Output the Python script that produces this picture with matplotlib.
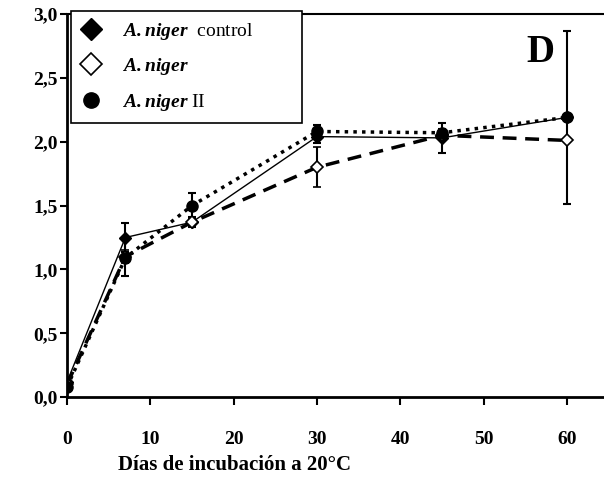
import matplotlib
matplotlib.use('Agg')
import matplotlib.pyplot as plt
from matplotlib.lines import Line2D
from matplotlib.ticker import FuncFormatter

plt.rcParams['font.family'] = 'Liberation Serif'
plt.rcParams['mathtext.fontset'] = 'custom'
plt.rcParams['mathtext.rm'] = 'Liberation Serif'
plt.rcParams['mathtext.bfit'] = 'Liberation Serif:italic:bold'

# data
days = [0, 7, 15, 30, 45, 60]
control = [0.12, 1.25, 1.37, 2.04, 2.03, 2.19]
control_err = [0.0, 0.11, 0.04, 0.05, 0.12, 0.0]
niger = [0.10, 1.10, 1.37, 1.80, 2.05, 2.01]
niger_err = [0.0, 0.05, 0.03, 0.155, 0.03, 0.0]
niger2 = [0.08, 1.09, 1.50, 2.08, 2.07, 2.19]
niger2_err = [0.0, 0.14, 0.10, 0.05, 0.03, 0.68]

labels = [r'$\mathbfit{A.niger}$  control         ', r'$\mathbfit{A.niger}$', r'$\mathbfit{A.niger}$ II']

fig = plt.figure(figsize=(6.04, 4.82), dpi=100)
ax = fig.add_axes([0.111, 0.176, 0.889, 0.795])

ax.errorbar(days, control, yerr=control_err, color='black', lw=1.0, ls='-',
            marker='D', ms=6, mfc='black', mec='black', ecolor='black', elinewidth=1.5, capsize=3, capthick=1.5)
ax.errorbar(days, niger, yerr=niger_err, color='black', lw=2.5, ls=(0, (4, 2.5)),
            marker='D', ms=6, mfc='white', mec='black', mew=1.2, ecolor='black', elinewidth=1.5, capsize=3, capthick=1.5)
ax.errorbar(days, niger2, yerr=niger2_err, color='black', lw=2.5, ls=(0, (1, 1.5)),
            marker='o', ms=8, mfc='black', mec='black', ecolor='black', elinewidth=1.5, capsize=3, capthick=1.5)

ax.set_xlim(0, 64.45)
ax.set_ylim(0, 3.0)
ax.set_xticks([0, 10, 20, 30, 40, 50, 60])
ax.set_yticks([0, 0.5, 1.0, 1.5, 2.0, 2.5, 3.0])
ax.yaxis.set_major_formatter(FuncFormatter(lambda v, p: ('%.1f' % v).replace('.', ',')))
ax.tick_params(axis='x', direction='out', length=6, width=1.5, pad=18, labelsize=14)
ax.tick_params(axis='y', direction='out', length=5, width=1.5, pad=2, labelsize=14)
for lab in ax.get_xticklabels() + ax.get_yticklabels():
    lab.set_fontweight('bold')
ax.spines['right'].set_visible(False)
for s in ['left', 'bottom']:
    ax.spines[s].set_linewidth(2)
ax.spines['top'].set_linewidth(1.5)

handles = [Line2D([], [], ls='none', marker='D', ms=11, mfc='black', mec='black'),
           Line2D([], [], ls='none', marker='D', ms=11, mfc='white', mec='black', mew=1.2),
           Line2D([], [], ls='none', marker='o', ms=11, mfc='black', mec='black')]
leg = ax.legend(handles, labels, loc='upper left', bbox_to_anchor=(0.0075, 1.008), fontsize=14,
                frameon=True, fancybox=False, edgecolor='black', framealpha=1,
                handlelength=1.0, handletextpad=1.1, labelspacing=0.75, borderpad=0.5, borderaxespad=0)
leg.get_frame().set_linewidth(1.2)

ax.text(0.881, 0.90, 'D', transform=ax.transAxes, fontsize=28, fontweight='bold', ha='center', va='center')

fig.text(235 / 604, 1 - 465 / 482, 'Días de incubación a 20°C', fontsize=15, fontweight='bold',
         ha='center', va='center')

fig.savefig('out.png', dpi=100)
